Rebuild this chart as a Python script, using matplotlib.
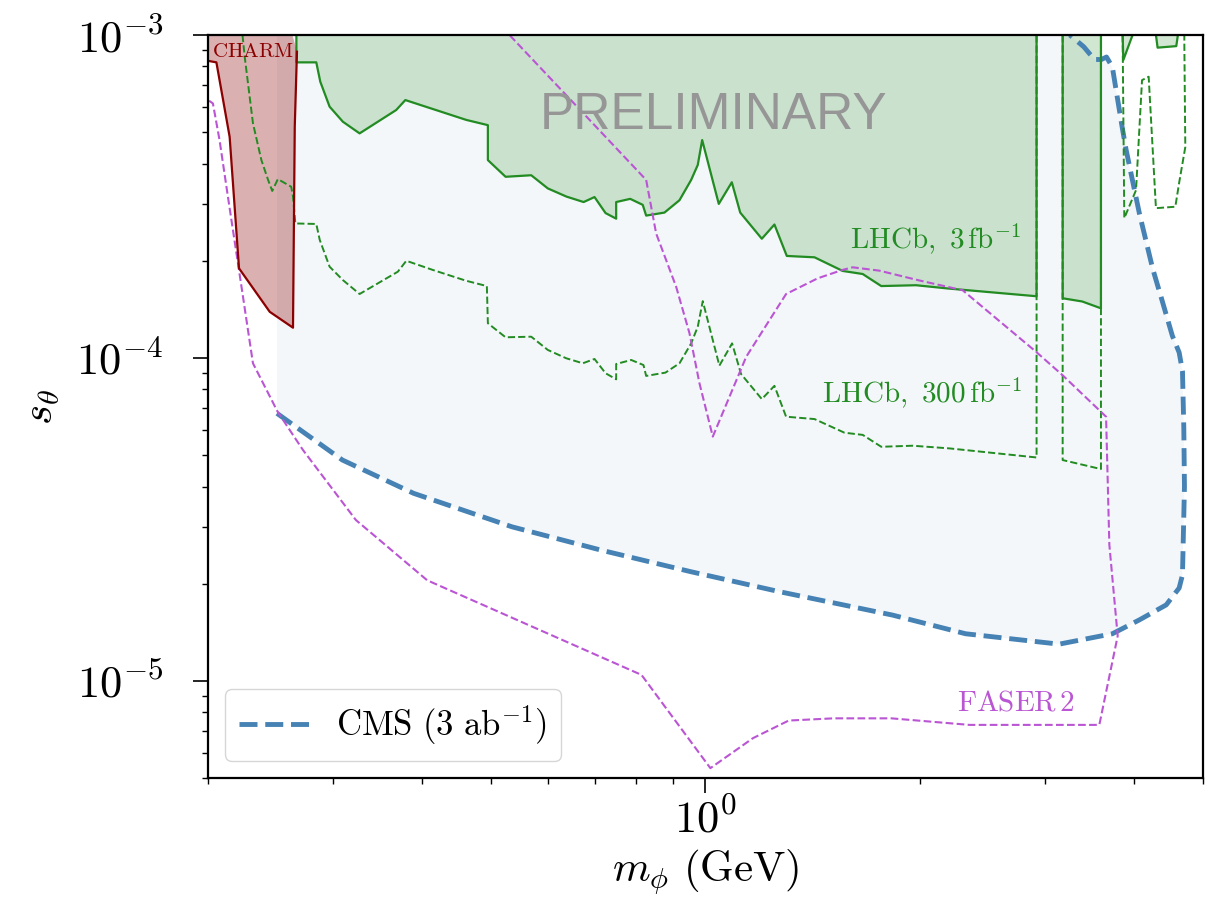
import matplotlib
matplotlib.use("Agg")
import matplotlib.pyplot as plt
import numpy as np

# Computer Modern everywhere, except the watermark
plt.rcParams["mathtext.fontset"] = "cm"
plt.rcParams["font.family"] = "serif"
plt.rcParams["font.serif"] = ["cmr10"]
plt.rcParams["axes.formatter.use_mathtext"] = True

top = 1e-3

# CHARM excluded region
charm_m = [0.2, 0.2, 0.2055, 0.2145, 0.2211, 0.2442, 0.2633, 0.2648, 0.2667, 0.2628]
charm_s = [1e-3, 8.32e-4, 8.23e-4, 4.84e-4, 1.895e-4, 1.39e-4, 1.241e-4, 5.2e-4, 8.88e-4, 1e-3]

# LHCb 3 fb^-1 exclusion (main island and the one above the J/psi gap)
lhcb3_m = [0.2662, 0.2662, 0.2839, 0.2876, 0.2964, 0.3094, 0.3266, 0.3677, 0.3787, 0.4140,
           0.4612, 0.4946, 0.4946, 0.5238, 0.5691, 0.6005, 0.6379, 0.6742, 0.6984, 0.7238,
           0.7491, 0.7491, 0.7839, 0.8163, 0.8254, 0.8757, 0.9194, 0.9548, 0.9754, 0.9894,
           1.044, 1.089, 1.119, 1.20, 1.25, 1.301, 1.423, 1.559, 1.663, 1.766,
           1.976, 2.2, 2.919, 2.919]
lhcb3_s = [1e-3, 8.23e-4, 8.23e-4, 7.17e-4, 6.0e-4, 5.39e-4, 4.96e-4, 5.86e-4, 6.29e-4, 5.90e-4,
           5.46e-4, 5.26e-4, 4.10e-4, 3.64e-4, 3.68e-4, 3.35e-4, 3.16e-4, 3.04e-4, 3.15e-4, 2.81e-4,
           2.70e-4, 3.04e-4, 3.11e-4, 2.98e-4, 2.76e-4, 2.82e-4, 3.08e-4, 3.56e-4, 3.96e-4, 4.73e-4,
           3.0e-4, 3.50e-4, 2.82e-4, 2.34e-4, 2.59e-4, 2.07e-4, 2.05e-4, 1.86e-4, 1.82e-4, 1.67e-4,
           1.68e-4, 1.64e-4, 1.553e-4, 1e-3]
lhcb3b_m = [3.176, 3.176, 3.384, 3.595, 3.595]
lhcb3b_s = [1e-3, 1.531e-4, 1.496e-4, 1.425e-4, 1e-3]
lhcb3c_m = [3.856, 3.865, 3.982]
lhcb3c_s = [1e-3, 8.37e-4, 1e-3]
lhcb3d_m = [4.295, 4.318, 4.587, 4.611]
lhcb3d_s = [1e-3, 9.14e-4, 9.24e-4, 1e-3]

# LHCb 300 fb^-1 projection
lhcb300_m = [0.2236, 0.2252, 0.2313, 0.2377, 0.2429, 0.2462, 0.2507, 0.2618, 0.2633, 0.2653,
             0.2839, 0.2871, 0.2964, 0.3094, 0.3266, 0.3696, 0.3799, 0.414, 0.4612, 0.493,
             0.4946, 0.5238, 0.5691, 0.6005, 0.6373, 0.6725, 0.6984, 0.7238, 0.7491, 0.7491,
             0.7864, 0.8183, 0.8254, 0.8786, 0.9194, 0.9548, 0.9754, 0.9913, 1.046, 1.090,
             1.122, 1.2, 1.25, 1.298, 1.423, 1.568, 1.663, 1.766, 1.955, 2.2,
             2.919, 2.919]
lhcb300_s = [1e-3, 8.57e-4, 5.33e-4, 4.10e-4, 3.56e-4, 3.29e-4, 3.58e-4, 3.39e-4, 3.16e-4, 2.61e-4,
             2.60e-4, 2.32e-4, 1.917e-4, 1.743e-4, 1.578e-4, 1.85e-4, 2.0e-4, 1.873e-4, 1.734e-4, 1.67e-4,
             1.281e-4, 1.159e-4, 1.164e-4, 1.059e-4, 9.98e-5, 9.63e-5, 9.93e-5, 8.97e-5, 8.59e-5, 9.58e-5,
             9.86e-5, 9.51e-5, 8.80e-5, 9.01e-5, 9.63e-5, 1.11e-4, 1.25e-4, 1.50e-4, 9.47e-5, 1.11e-4,
             8.92e-5, 7.46e-5, 8.20e-5, 6.58e-5, 6.47e-5, 5.87e-5, 5.78e-5, 5.31e-5, 5.35e-5, 5.25e-5,
             4.92e-5, 1e-3]
lhcb300b_m = [3.176, 3.176, 3.595, 3.595]
lhcb300b_s = [1e-3, 4.83e-5, 4.53e-5, 1e-3]
lhcb300c_m = [3.856, 3.877, 4.027, 4.106, 4.195, 4.295, 4.573, 4.632, 4.723, 4.708, 4.708]
lhcb300c_s = [1e-3, 2.71e-4, 3.31e-4, 7.25e-4, 7.43e-4, 2.91e-4, 2.94e-4, 3.51e-4, 4.50e-4, 9.53e-4, 1e-3]

# CMS 3 ab^-1 reach
cms_m = [0.25, 0.309, 0.389, 0.535, 0.714, 0.953, 1.27, 1.83, 2.32, 3.14,
         3.73, 4.07, 4.44, 4.63, 4.68, 4.71, 4.70, 4.68, 4.63, 4.53,
         4.38, 4.25, 4.07, 3.90, 3.85, 3.73, 3.66, 3.60, 3.52, 3.40, 3.25]
cms_s = [6.74e-5, 4.83e-5, 3.81e-5, 3.0e-5, 2.54e-5, 2.18e-5, 1.89e-5, 1.60e-5, 1.40e-5, 1.30e-5,
         1.40e-5, 1.545e-5, 1.72e-5, 1.94e-5, 2.13e-5, 4.0e-5, 6.1e-5, 9.1e-5, 1.04e-4, 1.17e-4,
         1.51e-4, 1.89e-4, 2.81e-4, 4.41e-4, 5.19e-4, 7.96e-4, 8.55e-4, 8.4e-4, 8.4e-4, 9.2e-4, 1e-3]

# FASER 2 projection
faser_m = [0.2007, 0.2032, 0.2076, 0.2133, 0.2168, 0.2211, 0.2313, 0.2505, 0.2719, 0.3227,
           0.4064, 0.8131, 1.016, 1.166, 1.309, 1.513, 1.825, 2.349, 3.576, 3.795,
           3.694, 3.655, 3.176, 2.913, 2.298, 1.998, 1.755, 1.61, 1.557, 1.438,
           1.298, 1.141, 1.024, 0.9808, 0.9496, 0.9095, 0.8525, 0.8254, 0.5305]
faser_s = [6.26e-4, 6.14e-4, 4.73e-4, 3.16e-4, 2.49e-4, 1.87e-4, 9.63e-5, 6.82e-5, 5.19e-5, 3.15e-5,
           2.05e-5, 1.044e-5, 5.37e-6, 6.65e-6, 7.54e-6, 7.66e-6, 7.66e-6, 7.31e-6, 7.31e-6, 1.378e-5,
           2.64e-5, 6.58e-5, 8.84e-5, 1.046e-4, 1.621e-4, 1.738e-4, 1.864e-4, 1.909e-4, 1.873e-4, 1.765e-4,
           1.578e-4, 1.009e-4, 5.71e-5, 8.35e-5, 1.193e-4, 1.662e-4, 2.43e-4, 3.56e-4, 1e-3]

green = "forestgreen"
magenta = "mediumorchid"
blue = "steelblue"

fig = plt.figure(figsize=(12.2, 9.22), dpi=100)
ax = fig.add_axes([0.1705, 0.156, 0.8155, 0.806])

# CMS region first so everything else sits on top of it
ax.fill(np.r_[cms_m[0], cms_m], np.r_[top, cms_s], color=blue, alpha=0.06, lw=0)
ax.plot(cms_m, cms_s, ls="--", lw=3.5, color=blue, label=r"$\mathrm{CMS\ (3\ ab^{-1})}$")

# LHCb 3 fb^-1 filled islands
for m, s in [(lhcb3_m, lhcb3_s), (lhcb3b_m, lhcb3b_s), (lhcb3c_m, lhcb3c_s), (lhcb3d_m, lhcb3d_s)]:
    ax.fill(m, s, color=green, alpha=0.2, lw=0)
    ax.plot(m, s, color=green, lw=1.6)

# LHCb 300 fb^-1 dashed contours
for m, s in [(lhcb300_m, lhcb300_s), (lhcb300b_m, lhcb300b_s), (lhcb300c_m, lhcb300c_s)]:
    ax.plot(m, s, color=green, lw=1.4, ls="--")

# FASER 2
ax.plot(faser_m, faser_s, color=magenta, lw=1.5, ls="--")

# CHARM
ax.fill(charm_m, charm_s, color="darkred", alpha=0.31, lw=0)
ax.plot(charm_m[1:-1], charm_s[1:-1], color="darkred", lw=1.6)

ax.set_xscale("log")
ax.set_yscale("log")
ax.set_xlim(0.2, 5)
ax.set_ylim(5e-6, 1e-3)

ax.text(1.598, 2.35e-4, r"$\mathrm{LHCb,\ 3\,fb^{-1}}$", color=green, fontsize=21, va="center")
ax.text(1.456, 7.79e-5, r"$\mathrm{LHCb,\ 300\,fb^{-1}}$", color=green, fontsize=21, va="center")
ax.text(2.259, 8.55e-6, r"$\mathrm{FASER\,2}$", color=magenta, fontsize=21, va="center")
ax.text(0.2024, 8.86e-4, r"$\mathrm{CHARM}$", color="darkred", fontsize=15, va="center")
ax.text(1.026, 5.65e-4, "PRELIMINARY", family="Liberation Sans", color="#969696",
        fontsize=37, ha="center", va="center")

ax.set_xlabel(r"$m_\phi\ \mathrm{(GeV)}$", fontsize=31)
ax.set_ylabel(r"$s_\theta$", fontsize=31, labelpad=10)
ax.tick_params(which="major", labelsize=32, length=11, width=1.2)
ax.tick_params(which="minor", length=4.5, width=1.0)
ax.tick_params(axis="y", which="major", pad=21)
for sp in ax.spines.values():
    sp.set_linewidth(1.6)

ax.legend(loc="lower left", fontsize=25, framealpha=0.8, edgecolor="0.8")

fig.savefig("out.png", dpi=100)
